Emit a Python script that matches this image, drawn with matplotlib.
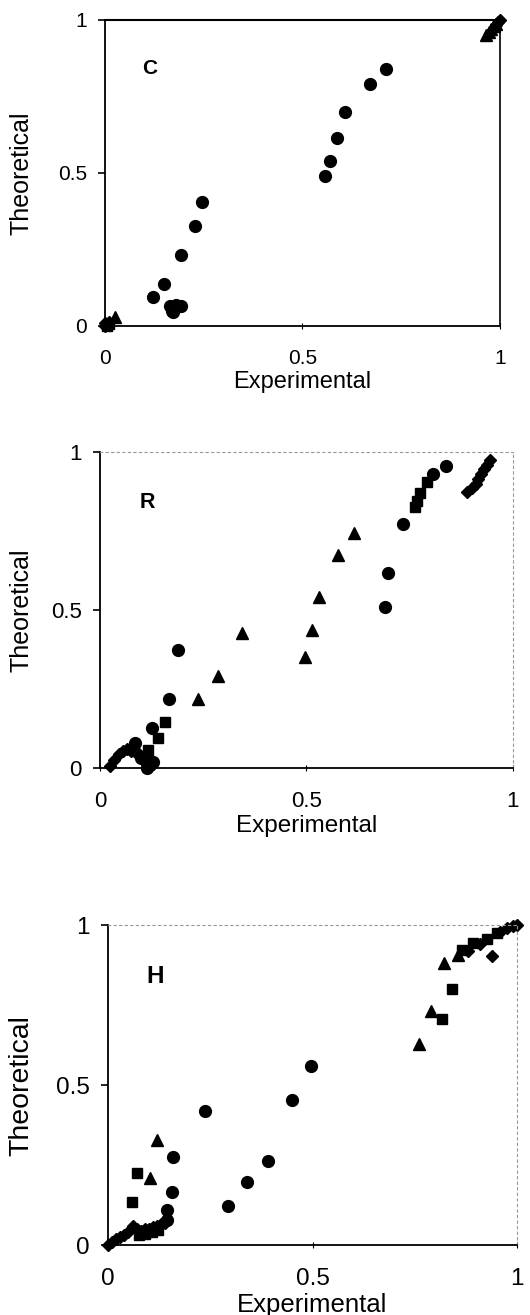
import matplotlib
matplotlib.use("Agg")
import matplotlib.pyplot as plt

plt.rcParams['font.family'] = ['Liberation Sans', 'DejaVu Sans']

# ---- panel C ----
c_circ_x = [0.711, 0.671, 0.609, 0.588, 0.570, 0.557, 0.245, 0.228, 0.192, 0.150, 0.121,
            0.165, 0.170, 0.175, 0.181, 0.192, 0.173]
c_circ_y = [0.839, 0.790, 0.700, 0.615, 0.539, 0.491, 0.404, 0.328, 0.232, 0.136, 0.096,
            0.065, 0.050, 0.060, 0.069, 0.065, 0.045]
c_tri_x = [0.025, 0.965, 0.972, 0.978, 0.985, 0.990]
c_tri_y = [0.030, 0.950, 0.960, 0.970, 0.980, 0.988]
c_sq_x = [0.005, 0.010]
c_sq_y = [0.000, 0.005]
c_dia_x = [0.000, 0.005, 0.010, 0.000, 0.990, 0.995, 1.000]
c_dia_y = [0.000, 0.005, 0.012, 0.010, 0.985, 0.995, 1.000]

# ---- panel R ----
r_circ_x = [0.839, 0.807, 0.734, 0.698, 0.690, 0.190, 0.168, 0.125, 0.085, 0.129, 0.113, 0.100, 0.120]
r_circ_y = [0.956, 0.930, 0.772, 0.616, 0.508, 0.373, 0.217, 0.125, 0.078, 0.020, 0.000, 0.030, 0.010]
r_tri_x = [0.615, 0.577, 0.530, 0.513, 0.496, 0.343, 0.286, 0.238]
r_tri_y = [0.743, 0.674, 0.542, 0.437, 0.350, 0.426, 0.291, 0.217]
r_sq_x = [0.763, 0.768, 0.775, 0.791, 0.157, 0.141, 0.117, 0.113]
r_sq_y = [0.825, 0.845, 0.870, 0.906, 0.147, 0.094, 0.057, 0.030]
r_dia_x = [0.890, 0.900, 0.910, 0.915, 0.922, 0.930, 0.938, 0.945,
           0.025, 0.035, 0.045, 0.055, 0.065, 0.075, 0.085, 0.095, 0.105, 0.115]
r_dia_y = [0.872, 0.885, 0.900, 0.915, 0.930, 0.945, 0.960, 0.975,
           0.005, 0.025, 0.045, 0.055, 0.060, 0.055, 0.050, 0.045, 0.030, 0.010]

# ---- panel H ----
h_circ_x = [0.496, 0.451, 0.392, 0.339, 0.293, 0.236, 0.160, 0.156, 0.143, 0.143]
h_circ_y = [0.559, 0.453, 0.264, 0.198, 0.123, 0.420, 0.274, 0.165, 0.109, 0.078]
h_tri_x = [0.119, 0.103, 0.760, 0.790, 0.822, 0.855]
h_tri_y = [0.328, 0.210, 0.628, 0.731, 0.883, 0.905]
h_sq_x = [0.059, 0.072, 0.840, 0.816, 0.865, 0.893, 0.926, 0.950, 0.123, 0.107, 0.090, 0.075]
h_sq_y = [0.133, 0.224, 0.800, 0.708, 0.922, 0.943, 0.958, 0.974, 0.047, 0.042, 0.036, 0.032]
h_dia_x = [0.940, 0.958, 0.975, 0.991, 1.000, 0.880, 0.910,
           0.000, 0.010, 0.020, 0.030, 0.040, 0.050, 0.060, 0.070, 0.080, 0.090, 0.100, 0.110, 0.120, 0.130, 0.140]
h_dia_y = [0.903, 0.979, 0.990, 0.997, 1.000, 0.920, 0.940,
           0.000, 0.010, 0.020, 0.025, 0.030, 0.040, 0.060, 0.050, 0.045, 0.050, 0.050, 0.055, 0.060, 0.065, 0.070]

panels = [
    # letter, series, axes rect, tick size, xlabel size, ylabel size, ylabel x, letter size, full box
    ('C', (c_circ_x, c_circ_y, c_tri_x, c_tri_y, c_sq_x, c_sq_y, c_dia_x, c_dia_y),
     [0.198, 0.7521, 0.745, 0.2327], 15, 17, 18, -0.18, 15, True),
    ('R', (r_circ_x, r_circ_y, r_tri_x, r_tri_y, r_sq_x, r_sq_y, r_dia_x, r_dia_y),
     [0.1887, 0.4160, 0.779, 0.2403], 16, 17.5, 18, -0.16, 15.5, False),
    ('H', (h_circ_x, h_circ_y, h_tri_x, h_tri_y, h_sq_x, h_sq_y, h_dia_x, h_dia_y),
     [0.2038, 0.0532, 0.7717, 0.2433], 17.5, 18.5, 20.5, -0.18, 17.5, False),
]

fig = plt.figure(figsize=(5.3, 13.15), dpi=100)

for letter, s, rect, tsize, xlsize, ylsize, ylx, letsize, box in panels:
    ax = fig.add_axes(rect)
    cx, cy, tx, ty, sx, sy, dx, dy = s
    ax.plot(dx, dy, 'D', color='black', ms=6.5, ls='none', clip_on=False)
    ax.plot(sx, sy, 's', color='black', ms=7.5, ls='none', clip_on=False)
    ax.plot(tx, ty, '^', color='black', ms=9, ls='none', clip_on=False)
    ax.plot(cx, cy, 'o', color='black', ms=8.5, ls='none', clip_on=False)
    ax.set_xlim(0, 1)
    ax.set_ylim(0, 1)
    ax.set_xticks([0, 0.5, 1])
    ax.set_xticklabels(['0', '0.5', '1'])
    ax.set_yticks([0, 0.5, 1])
    ax.set_yticklabels(['0', '0.5', '1'])
    ax.tick_params(axis='y', direction='out', length=5, width=1.2, pad=8, labelsize=tsize)
    ax.tick_params(axis='x', direction='inout', length=5, width=0.8, pad=14, labelsize=tsize)
    for side in ['left', 'bottom']:
        ax.spines[side].set_linewidth(1.3)
    if box:
        ax.spines['top'].set_linewidth(1.5)
        ax.spines['right'].set_linewidth(1.2)
    else:
        for side in ['top', 'right']:
            ax.spines[side].set_linewidth(0.8)
            ax.spines[side].set_color('#999999')
            ax.spines[side].set_linestyle((0, (2, 3)))
    ax.set_xlabel('Experimental', fontsize=xlsize, labelpad=2)
    ax.set_ylabel('Theoretical', fontsize=ylsize)
    ax.yaxis.set_label_coords(ylx, 0.5)
    ax.text(0.095, 0.84, letter, transform=ax.transAxes, fontsize=letsize,
            fontweight='bold', ha='left', va='center')

fig.savefig('out.png', dpi=100)
